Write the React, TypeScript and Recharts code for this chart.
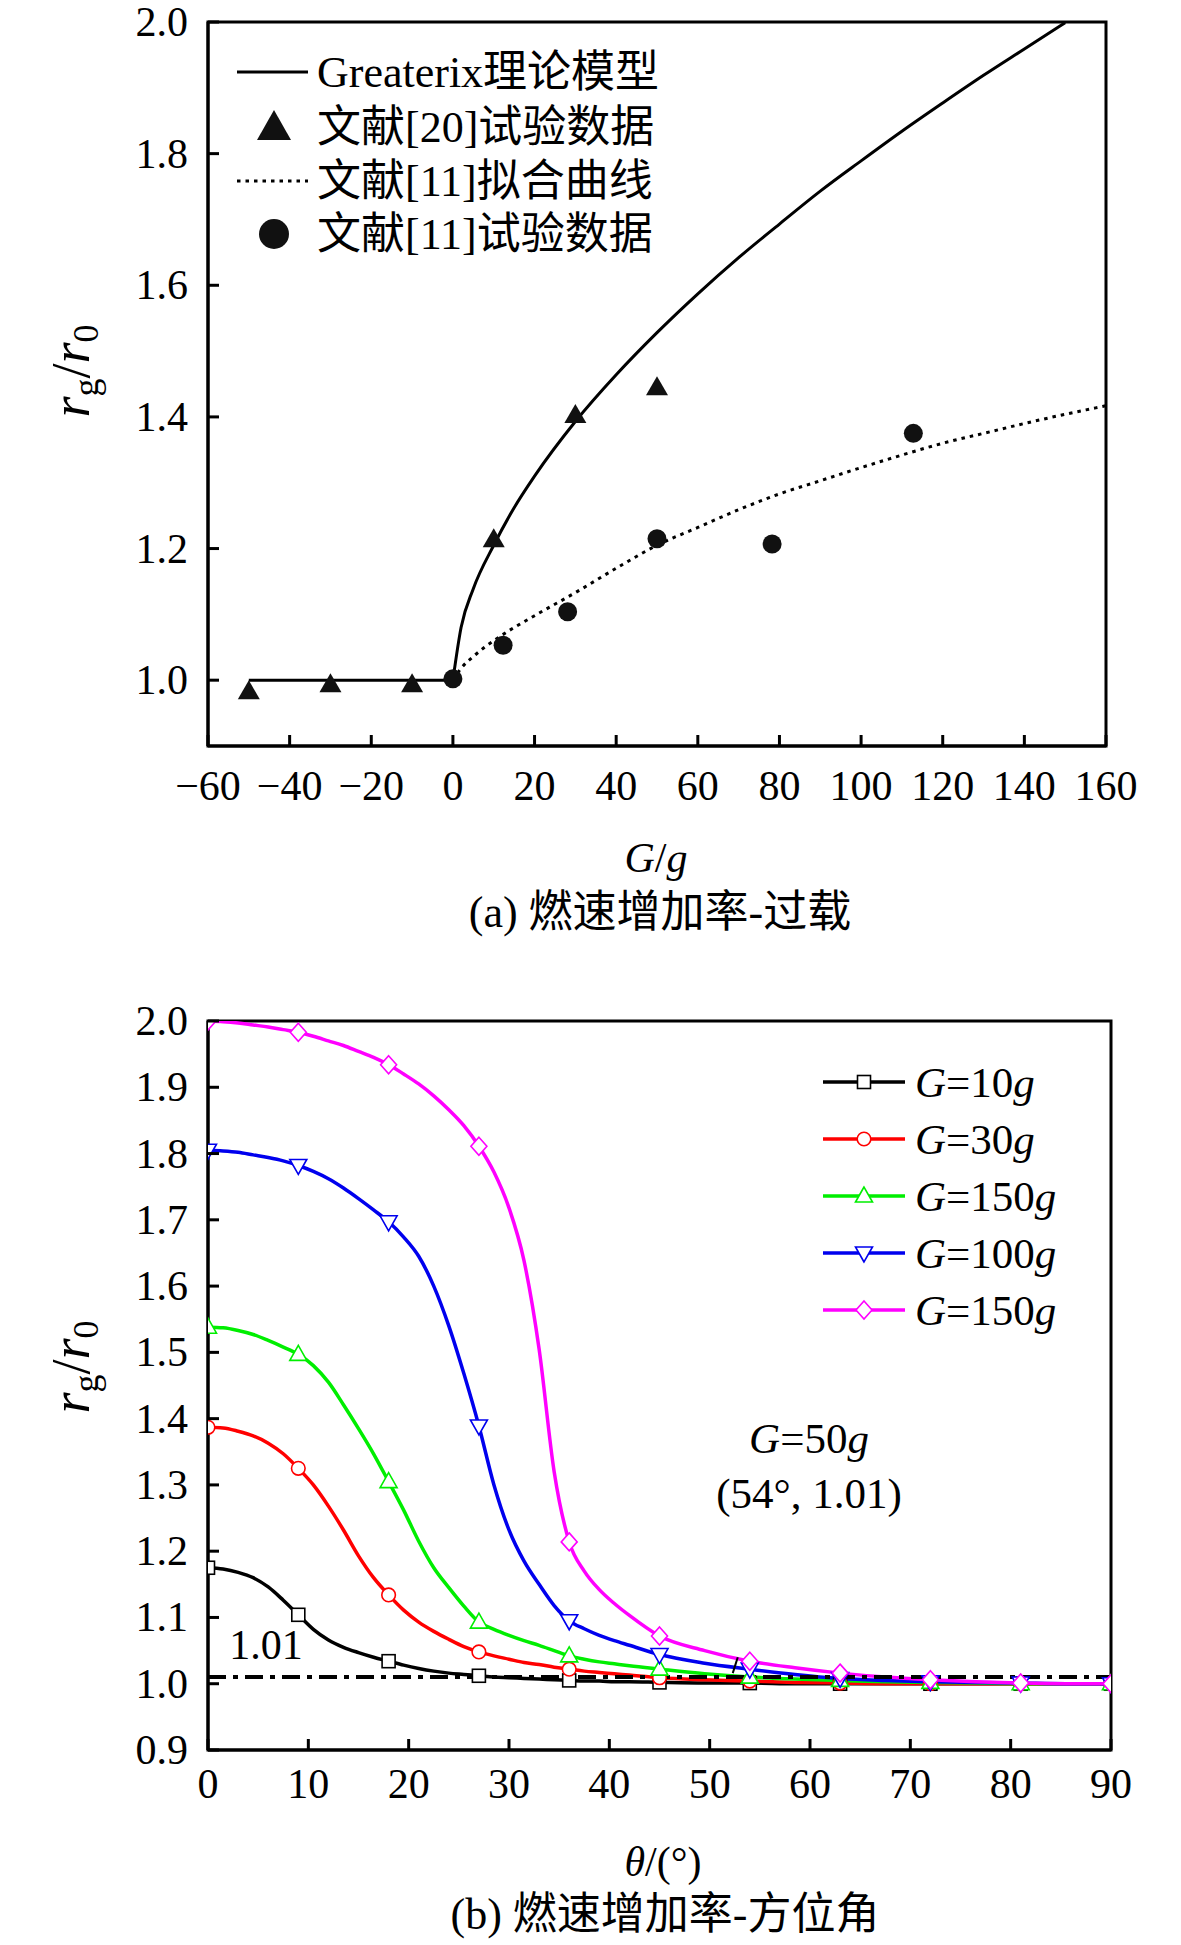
import React from 'react';
import {
  ComposedChart,
  Line,
  Scatter,
  XAxis,
  YAxis,
  ReferenceArea,
  ReferenceLine,
  Legend,
} from 'recharts';

const FONT = '"Liberation Serif", "Times New Roman", "Noto Sans CJK SC", serif';

// ---- (a) 燃速增加率-过载 ----
const overloadTicks = [-60, -40, -20, 0, 20, 40, 60, 80, 100, 120, 140, 160];
const ratioTicksA = [1.0, 1.2, 1.4, 1.6, 1.8, 2.0];

const flatG = [-50, 0];
const flatR = [1.0, 1.0];
const modelG = [0, 2, 5, 10, 15, 20, 30, 40, 50, 60, 70, 80, 90, 100, 110, 120, 130, 140, 150];
const modelR = [1.0, 1.08, 1.139, 1.205, 1.262, 1.31, 1.393, 1.464, 1.528, 1.587, 1.642, 1.693, 1.743, 1.789, 1.834, 1.877, 1.919, 1.959, 1.999];
const fitG = [0, 2, 5, 10, 15, 20, 30, 40, 50, 60, 70, 80, 90, 100, 110, 120, 130, 140, 150, 160];
const fitR = [1.0, 1.018, 1.036, 1.06, 1.08, 1.098, 1.133, 1.17, 1.205, 1.232, 1.259, 1.283, 1.303, 1.323, 1.342, 1.36, 1.375, 1.39, 1.404, 1.417];
const ref20G = [-50, -30, -10, 10, 30, 50];
const ref20R = [0.983, 0.994, 0.994, 1.214, 1.403, 1.445];
const ref11G = [0, 12.3, 28.1, 50, 78.2, 112.8];
const ref11R = [1.002, 1.053, 1.104, 1.215, 1.207, 1.375];

// ---- (b) 燃速增加率-方位角 ----
const thetaTicks = [0, 10, 20, 30, 40, 50, 60, 70, 80, 90];
const ratioTicksB = [0.9, 1.0, 1.1, 1.2, 1.3, 1.4, 1.5, 1.6, 1.7, 1.8, 1.9, 2.0];
const theta = [0, 1.5, 3, 4.5, 6, 7.5, 9, 10.5, 12, 13.5, 15, 16.5, 18, 19.5, 21, 22.5, 24, 25.5, 27, 28.5, 30, 31.5, 33, 34.5, 36, 37.5, 39, 40.5, 42, 45, 49.5, 54, 58.5, 63, 67.5, 72, 76.5, 81, 85.5, 90];
const g10 = [1.175, 1.173, 1.168, 1.16, 1.146, 1.126, 1.104, 1.082, 1.066, 1.055, 1.047, 1.04, 1.034, 1.028, 1.023, 1.019, 1.016, 1.014, 1.012, 1.01, 1.009, 1.008, 1.007, 1.006, 1.005, 1.004, 1.004, 1.003, 1.003, 1.002, 1.001, 1.001, 1.0, 1.0, 1.0, 1.0, 1.0, 1.0, 1.0, 1.0];
const g30 = [1.387, 1.386, 1.381, 1.374, 1.363, 1.347, 1.325, 1.3, 1.268, 1.232, 1.193, 1.16, 1.134, 1.111, 1.093, 1.079, 1.067, 1.056, 1.048, 1.042, 1.037, 1.032, 1.029, 1.025, 1.022, 1.019, 1.017, 1.015, 1.013, 1.009, 1.006, 1.004, 1.002, 1.001, 1.0, 1.0, 1.0, 1.0, 1.0, 1.0];
const g50 = [1.538, 1.537, 1.533, 1.527, 1.518, 1.508, 1.497, 1.48, 1.455, 1.421, 1.385, 1.347, 1.305, 1.262, 1.215, 1.175, 1.145, 1.117, 1.093, 1.082, 1.073, 1.065, 1.058, 1.05, 1.042, 1.037, 1.033, 1.03, 1.027, 1.022, 1.015, 1.01, 1.007, 1.005, 1.003, 1.002, 1.001, 1.0, 1.0, 1.0];
const g100 = [1.805, 1.804, 1.802, 1.798, 1.794, 1.789, 1.782, 1.773, 1.762, 1.748, 1.732, 1.715, 1.697, 1.674, 1.645, 1.6, 1.54, 1.468, 1.389, 1.3, 1.232, 1.185, 1.15, 1.118, 1.095, 1.083, 1.073, 1.065, 1.058, 1.044, 1.031, 1.022, 1.014, 1.008, 1.005, 1.003, 1.002, 1.001, 1.0, 1.0];
const g150 = [2.0, 1.999, 1.997, 1.994, 1.991, 1.987, 1.983, 1.977, 1.97, 1.963, 1.954, 1.945, 1.934, 1.92, 1.905, 1.887, 1.866, 1.842, 1.811, 1.772, 1.718, 1.638, 1.505, 1.32, 1.214, 1.17, 1.142, 1.121, 1.103, 1.072, 1.05, 1.034, 1.024, 1.016, 1.01, 1.006, 1.003, 1.001, 1.0, 1.0];
const thresholdValue = 1.01;

const zip = (xs: number[], ys: number[]) => xs.map((x, i) => ({ x, y: ys[i] }));

const seriesB = [
  { key: 'g10', label: '10', values: g10, color: '#000000', shape: 'square' },
  { key: 'g30', label: '30', values: g30, color: '#ff0000', shape: 'circle' },
  { key: 'g50', label: '150', values: g50, color: '#00ee00', shape: 'triangle' },
  { key: 'g100', label: '100', values: g100, color: '#0000ee', shape: 'triangleDown' },
  { key: 'g150', label: '150', values: g150, color: '#ff00ff', shape: 'diamond' },
];

const tickText = { fontFamily: FONT, fontSize: 42, fill: '#000' };
const fmtX = (v: number) => (v < 0 ? `\u2212${Math.abs(v)}` : `${v}`);

const XTick = (props: any) => {
  const { x, y, payload, labelDy } = props;
  return (
    <g>
      <line x1={x} x2={x} y1={y} y2={y - 11} stroke="#000" strokeWidth={3} />
      <text x={x} y={y + labelDy} textAnchor="middle" dominantBaseline="central" style={tickText}>
        {fmtX(payload.value)}
      </text>
    </g>
  );
};

const YTick = (props: any) => {
  const { x, y, payload } = props;
  return (
    <g>
      <line x1={x} x2={x + 11} y1={y} y2={y} stroke="#000" strokeWidth={3} />
      <text x={x - 20} y={y} textAnchor="end" dominantBaseline="central" style={tickText}>
        {Number(payload.value).toFixed(1)}
      </text>
    </g>
  );
};

const Marker = ({ shape, cx, cy, color }: any) => {
  const common = { fill: '#fff', stroke: color, strokeWidth: 1.6 };
  if (shape === 'square') return <rect x={cx - 6.5} y={cy - 6.5} width={13} height={13} {...common} />;
  if (shape === 'circle') return <circle cx={cx} cy={cy} r={6.8} {...common} />;
  if (shape === 'triangle')
    return <polygon points={`${cx},${cy - 9} ${cx - 8.5},${cy + 6} ${cx + 8.5},${cy + 6}`} {...common} />;
  if (shape === 'triangleDown')
    return <polygon points={`${cx},${cy + 9} ${cx - 8.5},${cy - 6} ${cx + 8.5},${cy - 6}`} {...common} />;
  return <polygon points={`${cx},${cy - 9} ${cx + 8},${cy} ${cx},${cy + 9} ${cx - 8},${cy}`} {...common} />;
};

const markerDot = (shape: string, color: string) => (props: any) => {
  const { cx, cy, payload, index } = props;
  if (payload.x % 9 !== 0) return <g key={`n-${index}`} />;
  return (
    <g key={`m-${index}`}>
      <Marker shape={shape} cx={cx} cy={cy} color={color} />
    </g>
  );
};

const Triangle = (props: any) => {
  const { cx, cy } = props;
  return <polygon points={`${cx},${cy - 11} ${cx - 11},${cy + 8} ${cx + 11},${cy + 8}`} fill="#111" />;
};

const Dot = (props: any) => <circle cx={props.cx} cy={props.cy} r={9.5} fill="#111" />;

const legendFont = { fontFamily: FONT, fontSize: 44, fill: '#000' };

const LegendA = () => {
  const rows = [17, 72, 126, 179];
  return (
    <svg width={560} height={210} style={{ display: 'block', overflow: 'visible' }}>
      <line x1={17} x2={88} y1={rows[0]} y2={rows[0]} stroke="#000" strokeWidth={3} />
      <polygon points={`54,${rows[1] - 17} 37,${rows[1] + 13} 71,${rows[1] + 13}`} fill="#111" />
      <line x1={17} x2={88} y1={rows[2]} y2={rows[2]} stroke="#000" strokeWidth={3} strokeDasharray="3.5 5" />
      <circle cx={54} cy={rows[3]} r={15} fill="#111" />
      {['Greaterix理论模型', '文献[20]试验数据', '文献[11]拟合曲线', '文献[11]试验数据'].map((t, i) => (
        <text key={t} x={97} y={rows[i]} dominantBaseline="central" style={legendFont}>
          {t}
        </text>
      ))}
    </svg>
  );
};

const LegendB = () => {
  const rows = [25, 82, 139, 196, 253];
  return (
    <svg width={300} height={290} style={{ display: 'block', overflow: 'visible' }}>
      {seriesB.map((s, i) => (
        <g key={s.key}>
          <line x1={3} x2={85} y1={rows[i]} y2={rows[i]} stroke={s.color} strokeWidth={3.5} />
          <Marker shape={s.shape} cx={44} cy={rows[i]} color={s.color} />
          <text x={95} y={rows[i]} dominantBaseline="central" style={{ ...legendFont, fontSize: 43 }}>
            <tspan fontStyle="italic">G</tspan>
            <tspan>={s.label}</tspan>
            <tspan fontStyle="italic">g</tspan>
          </text>
        </g>
      ))}
    </svg>
  );
};

const abs = (left: number, top: number, extra: React.CSSProperties = {}): React.CSSProperties => ({
  position: 'absolute',
  left,
  top,
  transform: 'translate(-50%, -50%)',
  whiteSpace: 'nowrap',
  fontFamily: FONT,
  fontSize: 42,
  lineHeight: 1,
  color: '#000',
  ...extra,
});

const YLabel = ({ top }: { top: number }) => (
  <div style={abs(74, top, { fontSize: 54, transform: 'translate(-50%, -50%) rotate(-90deg)' })}>
    <i>r</i>
    <sub style={{ fontSize: 36, verticalAlign: '-0.25em' }}>g</sub>/<i>r</i>
    <sub style={{ fontSize: 36, verticalAlign: '-0.25em' }}>0</sub>
  </div>
);

const axisLine = { stroke: '#000', strokeWidth: 3 };

export default function App() {
  const flatLine = zip(flatG, flatR);
  const modelLine = zip(modelG, modelR);
  const fitLine = zip(fitG, fitR);
  const ref20 = zip(ref20G, ref20R);
  const ref11 = zip(ref11G, ref11R);

  return (
    <div style={{ position: 'relative', width: 1181, height: 1945, background: '#fff', fontFamily: FONT }}>
      <style>{'body{margin:0;background:#fff}'}</style>

      {/* (a) */}
      <div style={{ position: 'absolute', left: 0, top: 0 }}>
        <ComposedChart width={1181} height={960} margin={{ top: 22, right: 75, bottom: 213, left: 207 }}>
          <XAxis
            type="number"
            dataKey="x"
            domain={[-60, 160]}
            ticks={overloadTicks}
            interval={0}
            height={1}
            tickSize={0}
            tickMargin={0}
            tickLine={false}
            allowDataOverflow
            axisLine={axisLine}
            tick={<XTick labelDy={40} />}
          />
          <YAxis
            type="number"
            dataKey="y"
            domain={[0.9, 2.0]}
            ticks={ratioTicksA}
            interval={0}
            width={1}
            tickSize={0}
            tickMargin={0}
            tickLine={false}
            allowDataOverflow
            axisLine={axisLine}
            tick={<YTick />}
          />
          <ReferenceArea x1={-60} x2={160} y1={0.9} y2={2.0} fill="none" stroke="#000" strokeWidth={3} ifOverflow="visible" />
          <Line data={flatLine} dataKey="y" type="linear" stroke="#000" strokeWidth={3} dot={false} isAnimationActive={false} />
          <Line data={modelLine} dataKey="y" type="monotone" stroke="#000" strokeWidth={3} dot={false} isAnimationActive={false} />
          <Line data={fitLine} dataKey="y" type="monotone" stroke="#000" strokeWidth={3} strokeDasharray="3.5 5" dot={false} isAnimationActive={false} />
          <Scatter data={ref20} dataKey="y" shape={<Triangle />} isAnimationActive={false} />
          <Scatter data={ref11} dataKey="y" shape={<Dot />} isAnimationActive={false} />
          <Legend
            layout="horizontal"
            verticalAlign="middle"
            align="center"
            content={() => <LegendA />}
            wrapperStyle={{ left: 220, top: 55, width: 560, height: 210 }}
          />
        </ComposedChart>
      </div>
      <YLabel top={371} />
      <div style={abs(656, 858)}>
        <i>G</i>/<i>g</i>
      </div>
      <div style={abs(660, 913, { fontSize: 44 })}>(a) 燃速增加率-过载</div>

      {/* (b) */}
      <div style={{ position: 'absolute', left: 0, top: 960 }}>
        <ComposedChart width={1181} height={985} margin={{ top: 61, right: 70, bottom: 194, left: 207 }}>
          <XAxis
            type="number"
            dataKey="x"
            domain={[0, 90]}
            ticks={thetaTicks}
            interval={0}
            height={1}
            tickSize={0}
            tickMargin={0}
            tickLine={false}
            allowDataOverflow
            axisLine={axisLine}
            tick={<XTick labelDy={34} />}
          />
          <YAxis
            type="number"
            dataKey="y"
            domain={[0.9, 2.0]}
            ticks={ratioTicksB}
            interval={0}
            width={1}
            tickSize={0}
            tickMargin={0}
            tickLine={false}
            allowDataOverflow
            axisLine={axisLine}
            tick={<YTick />}
          />
          <ReferenceArea x1={0} x2={90} y1={0.9} y2={2.0} fill="none" stroke="#000" strokeWidth={3} ifOverflow="visible" />
          {seriesB.map((s) => (
            <Line
              key={s.key}
              data={zip(theta, s.values)}
              dataKey="y"
              type="monotone"
              stroke={s.color}
              strokeWidth={3.5}
              dot={markerDot(s.shape, s.color)}
              activeDot={false}
              isAnimationActive={false}
            />
          ))}
          <ReferenceLine y={thresholdValue} stroke="#000" strokeWidth={4} strokeDasharray="18 7 5 7" />
          <ReferenceLine
            segment={[
              { x: 52.3, y: 1.016 },
              { x: 52.8, y: 1.04 },
            ]}
            stroke="#000"
            strokeWidth={2}
          />
          <Legend
            layout="horizontal"
            verticalAlign="middle"
            align="center"
            content={() => <LegendB />}
            wrapperStyle={{ left: 820, top: 97, width: 300, height: 290 }}
          />
        </ComposedChart>
      </div>
      <YLabel top={1367} />
      <div style={abs(266, 1645)}>1.01</div>
      <div style={abs(809, 1438, { fontSize: 43 })}>
        <i>G</i>=50<i>g</i>
      </div>
      <div style={abs(809, 1493, { fontSize: 43 })}>(54°, 1.01)</div>
      <div style={abs(663, 1862)}>
        <i>θ</i>/(°)
      </div>
      <div style={abs(665, 1915, { fontSize: 44 })}>(b) 燃速增加率-方位角</div>
    </div>
  );
}
